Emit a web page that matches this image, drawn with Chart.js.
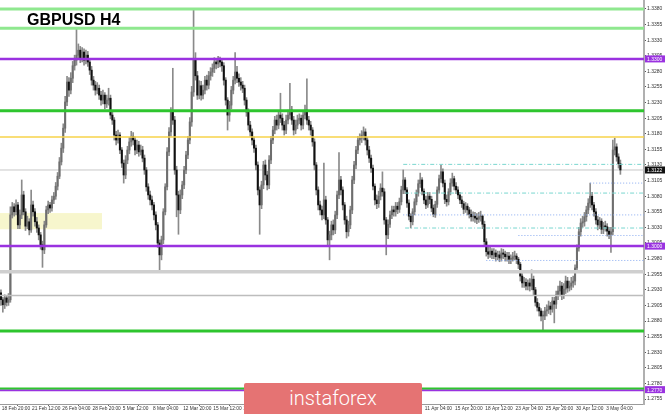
<!DOCTYPE html>
<html><head><meta charset="utf-8">
<script src="https://cdn.jsdelivr.net/npm/chart.js@4.4.1/dist/chart.umd.min.js"></script>
<style>
html,body{margin:0;padding:0;background:#fff;}
#wrap{position:relative;width:665px;height:414px;overflow:hidden;}
#c{position:absolute;left:0;top:0;}
#title{position:absolute;left:27px;top:11px;font:bold 16px/17px "Liberation Sans",Arial,sans-serif;color:#000;white-space:nowrap;}
#wm{position:absolute;left:244px;top:383px;width:178px;height:31px;background:#e57373;color:#fff;font:300 20px/30px Roboto,"Open Sans",sans-serif;text-align:center;border-radius:2px 2px 0 0;}
</style></head><body>
<div id="wrap"><canvas id="c" width="665" height="414"></canvas><div id="title">GBPUSD H4</div><div id="wm">instaforex</div></div>
<script>
// ---- data (GBPUSD H4 candles) ----
const open = [1.2925,1.2914,1.2906,1.2917,1.2910,1.2914,1.3050,1.3063,1.3055,1.3066,
1.3034,1.3050,1.3082,1.3055,1.3032,1.3039,1.3026,1.3066,1.3055,1.3039,
1.3029,1.3018,1.3002,1.2994,1.3034,1.3058,1.3066,1.3061,1.3074,1.3080,
1.3096,1.3112,1.3135,1.3157,1.3189,1.3231,1.3263,1.3250,1.3269,1.3289,
1.3298,1.3306,1.3314,1.3301,1.3311,1.3298,1.3306,1.3295,1.3282,1.3266,
1.3258,1.3250,1.3253,1.3242,1.3234,1.3242,1.3228,1.3234,1.3237,1.3210,
1.3202,1.3178,1.3170,1.3178,1.3154,1.3133,1.3114,1.3138,1.3154,1.3167,
1.3176,1.3170,1.3154,1.3162,1.3151,1.3154,1.3141,1.3122,1.3095,1.3082,
1.3074,1.3066,1.3050,1.3034,1.3005,1.2986,1.3010,1.3055,1.3095,1.3151,
1.3183,1.3215,1.3202,1.3122,1.3082,1.3058,1.3082,1.3098,1.3122,1.3146,
1.3170,1.3199,1.3247,1.3298,1.3273,1.3242,1.3257,1.3242,1.3250,1.3266,
1.3258,1.3273,1.3279,1.3285,1.3295,1.3292,1.3298,1.3295,1.3289,1.3266,
1.3234,1.3210,1.3226,1.3250,1.3266,1.3279,1.3269,1.3263,1.3258,1.3253,
1.3234,1.3215,1.3194,1.3183,1.3170,1.3157,1.3130,1.3090,1.3066,1.3098,
1.3130,1.3114,1.3098,1.3138,1.3170,1.3186,1.3202,1.3194,1.3210,1.3205,
1.3194,1.3186,1.3202,1.3210,1.3218,1.3202,1.3186,1.3194,1.3202,1.3205,
1.3194,1.3210,1.3218,1.3202,1.3194,1.3186,1.3167,1.3130,1.3090,1.3066,
1.3058,1.3050,1.3074,1.3042,1.3010,1.3018,1.3034,1.3026,1.3050,1.3082,
1.3106,1.3090,1.3066,1.3042,1.3023,1.3034,1.3058,1.3106,1.3130,1.3154,
1.3170,1.3173,1.3178,1.3183,1.3170,1.3154,1.3141,1.3125,1.3096,1.3074,
1.3068,1.3080,1.3093,1.3087,1.3042,1.3018,1.3035,1.3050,1.3058,1.3055,
1.3064,1.3059,1.3071,1.3090,1.3106,1.3090,1.3069,1.3048,1.3039,1.3055,
1.3071,1.3085,1.3100,1.3106,1.3088,1.3074,1.3066,1.3080,1.3075,1.3061,
1.3051,1.3067,1.3090,1.3108,1.3119,1.3101,1.3075,1.3071,1.3087,1.3101,
1.3108,1.3096,1.3090,1.3082,1.3074,1.3068,1.3059,1.3064,1.3058,1.3051,
1.3047,1.3048,1.3045,1.3043,1.3047,1.3048,1.3035,1.3007,1.2991,1.2987,
1.2992,1.2986,1.2989,1.2983,1.2986,1.2981,1.2989,1.2987,1.2983,1.2984,
1.2979,1.2979,1.2983,1.2984,1.2979,1.2971,1.2952,1.2941,1.2942,1.2936,
1.2941,1.2936,1.2947,1.2930,1.2910,1.2902,1.2896,1.2888,1.2888,1.2896,
1.2898,1.2904,1.2899,1.2912,1.2907,1.2922,1.2928,1.2936,1.2922,1.2931,
1.2944,1.2933,1.2936,1.2941,1.2944,1.2965,1.2997,1.3023,1.3037,1.3039,
1.3047,1.3058,1.3069,1.3080,1.3066,1.3055,1.3042,1.3034,1.3040,1.3027,
1.3032,1.3031,1.3024,1.3019,1.3023,1.3154,1.3159,1.3143,1.3132];
const high = [1.2930,1.2918,1.2922,1.2920,1.2924,1.3063,1.3070,1.3068,1.3074,1.3070,
1.3058,1.3106,1.3088,1.3060,1.3048,1.3044,1.3090,1.3072,1.3060,1.3046,
1.3034,1.3022,1.3008,1.3040,1.3064,1.3072,1.3070,1.3080,1.3086,1.3102,
1.3118,1.3142,1.3165,1.3196,1.3240,1.3272,1.3270,1.3278,1.3296,1.3306,
1.3348,1.3324,1.3320,1.3318,1.3316,1.3314,1.3312,1.3300,1.3288,1.3272,
1.3264,1.3262,1.3258,1.3248,1.3250,1.3246,1.3242,1.3253,1.3242,1.3216,
1.3206,1.3184,1.3186,1.3182,1.3158,1.3138,1.3145,1.3160,1.3174,1.3184,
1.3182,1.3175,1.3170,1.3168,1.3162,1.3160,1.3146,1.3126,1.3100,1.3088,
1.3080,1.3070,1.3055,1.3038,1.3010,1.3016,1.3060,1.3100,1.3158,1.3190,
1.3222,1.3285,1.3208,1.3128,1.3088,1.3090,1.3104,1.3128,1.3152,1.3176,
1.3206,1.3256,1.3378,1.3310,1.3280,1.3265,1.3264,1.3258,1.3272,1.3274,
1.3280,1.3286,1.3292,1.3302,1.3300,1.3304,1.3303,1.3300,1.3294,1.3270,
1.3238,1.3232,1.3256,1.3272,1.3310,1.3288,1.3276,1.3270,1.3264,1.3258,
1.3238,1.3220,1.3200,1.3188,1.3175,1.3162,1.3135,1.3095,1.3104,1.3136,
1.3138,1.3120,1.3145,1.3176,1.3192,1.3208,1.3210,1.3216,1.3245,1.3212,
1.3200,1.3210,1.3218,1.3261,1.3224,1.3208,1.3202,1.3210,1.3212,1.3210,
1.3216,1.3226,1.3268,1.3208,1.3200,1.3190,1.3172,1.3134,1.3095,1.3072,
1.3064,1.3133,1.3080,1.3046,1.3024,1.3040,1.3042,1.3056,1.3088,1.3150,
1.3112,1.3095,1.3070,1.3048,1.3040,1.3064,1.3112,1.3136,1.3160,1.3176,
1.3180,1.3185,1.3191,1.3188,1.3174,1.3160,1.3146,1.3130,1.3100,1.3082,
1.3088,1.3100,1.3119,1.3092,1.3046,1.3042,1.3056,1.3064,1.3064,1.3070,
1.3070,1.3077,1.3096,1.3122,1.3110,1.3094,1.3074,1.3052,1.3060,1.3076,
1.3090,1.3106,1.3117,1.3110,1.3092,1.3080,1.3086,1.3086,1.3080,1.3066,
1.3072,1.3095,1.3114,1.3130,1.3124,1.3106,1.3082,1.3092,1.3108,1.3117,
1.3112,1.3102,1.3095,1.3086,1.3080,1.3072,1.3070,1.3068,1.3062,1.3058,
1.3055,1.3054,1.3052,1.3054,1.3056,1.3050,1.3040,1.3012,1.2998,1.2998,
1.2996,1.2996,1.2994,1.2992,1.2992,1.2996,1.2995,1.2992,1.2990,1.2990,
1.2986,1.2990,1.2992,1.2988,1.2982,1.2974,1.2956,1.2950,1.2948,1.2946,
1.2948,1.2962,1.2952,1.2934,1.2916,1.2908,1.2900,1.2896,1.2902,1.2906,
1.2912,1.2910,1.2918,1.2918,1.2928,1.2936,1.2944,1.2942,1.2940,1.2952,
1.2950,1.2944,1.2950,1.2952,1.2970,1.3002,1.3030,1.3044,1.3048,1.3054,
1.3064,1.3076,1.3101,1.3086,1.3070,1.3060,1.3048,1.3046,1.3044,1.3038,
1.3040,1.3036,1.3030,1.3030,1.3170,1.3173,1.3164,1.3148,1.3138];
const low = [1.2905,1.2894,1.2900,1.2904,1.2905,1.2910,1.3045,1.3048,1.3050,1.3028,
1.3028,1.3044,1.3050,1.3025,1.3028,1.3018,1.3022,1.3048,1.3032,1.3022,
1.3010,1.2995,1.2966,1.2988,1.3030,1.3052,1.3054,1.3056,1.3068,1.3075,
1.3090,1.3108,1.3130,1.3150,1.3182,1.3225,1.3240,1.3244,1.3262,1.3282,
1.3290,1.3300,1.3294,1.3295,1.3290,1.3292,1.3288,1.3275,1.3258,1.3250,
1.3242,1.3244,1.3235,1.3226,1.3228,1.3220,1.3222,1.3226,1.3204,1.3195,
1.3170,1.3162,1.3165,1.3148,1.3126,1.3101,1.3108,1.3132,1.3148,1.3160,
1.3162,1.3146,1.3148,1.3144,1.3146,1.3135,1.3115,1.3088,1.3075,1.3066,
1.3058,1.3042,1.3026,1.2998,1.2962,1.2978,1.3004,1.3050,1.3090,1.3145,
1.3176,1.3195,1.3115,1.3047,1.3019,1.3052,1.3076,1.3092,1.3116,1.3140,
1.3164,1.3192,1.3240,1.3266,1.3235,1.3236,1.3234,1.3236,1.3244,1.3250,
1.3252,1.3266,1.3272,1.3278,1.3284,1.3286,1.3287,1.3280,1.3258,1.3226,
1.3186,1.3200,1.3220,1.3244,1.3260,1.3262,1.3256,1.3250,1.3246,1.3226,
1.3208,1.3186,1.3176,1.3162,1.3150,1.3122,1.3082,1.3019,1.3060,1.3092,
1.3106,1.3090,1.3092,1.3132,1.3164,1.3180,1.3186,1.3188,1.3198,1.3186,
1.3178,1.3180,1.3196,1.3204,1.3195,1.3178,1.3180,1.3188,1.3196,1.3186,
1.3188,1.3204,1.3195,1.3186,1.3178,1.3160,1.3122,1.3082,1.3058,1.3050,
1.3042,1.3044,1.3035,1.3002,1.2978,1.3010,1.3018,1.3020,1.3044,1.3076,
1.3082,1.3058,1.3035,1.3013,1.3016,1.3028,1.3052,1.3100,1.3124,1.3148,
1.3162,1.3166,1.3170,1.3162,1.3146,1.3134,1.3118,1.3090,1.3066,1.3060,
1.3062,1.3074,1.3080,1.3035,1.2986,1.3012,1.3030,1.3044,1.3048,1.3048,
1.3052,1.3054,1.3066,1.3084,1.3084,1.3062,1.3042,1.3029,1.3034,1.3050,
1.3066,1.3080,1.3094,1.3082,1.3068,1.3060,1.3062,1.3068,1.3055,1.3047,
1.3046,1.3062,1.3085,1.3102,1.3095,1.3068,1.3064,1.3066,1.3082,1.3096,
1.3090,1.3084,1.3076,1.3068,1.3062,1.3052,1.3054,1.3050,1.3045,1.3040,
1.3040,1.3038,1.3036,1.3038,1.3040,1.3028,1.3000,1.2984,1.2980,1.2982,
1.2980,1.2980,1.2976,1.2978,1.2975,1.2976,1.2980,1.2976,1.2976,1.2972,
1.2972,1.2976,1.2978,1.2972,1.2964,1.2944,1.2934,1.2934,1.2930,1.2930,
1.2928,1.2930,1.2922,1.2904,1.2896,1.2888,1.2880,1.2866,1.2882,1.2888,
1.2892,1.2890,1.2894,1.2877,1.2900,1.2914,1.2920,1.2914,1.2916,1.2924,
1.2926,1.2928,1.2930,1.2934,1.2938,1.2960,1.2992,1.3016,1.3030,1.3032,
1.3040,1.3052,1.3062,1.3058,1.3048,1.3035,1.3026,1.3028,1.3020,1.3020,
1.3024,1.3016,1.3012,1.2990,1.3018,1.3146,1.3136,1.3125,1.3115];
const close = [1.2914,1.2906,1.2917,1.2910,1.2914,1.3050,1.3063,1.3055,1.3066,1.3034,
1.3050,1.3082,1.3055,1.3032,1.3039,1.3026,1.3066,1.3055,1.3039,1.3029,
1.3018,1.3002,1.2994,1.3034,1.3058,1.3066,1.3061,1.3074,1.3080,1.3096,
1.3112,1.3135,1.3157,1.3189,1.3231,1.3263,1.3250,1.3269,1.3289,1.3298,
1.3306,1.3314,1.3301,1.3311,1.3298,1.3306,1.3295,1.3282,1.3266,1.3258,
1.3250,1.3253,1.3242,1.3234,1.3242,1.3228,1.3234,1.3237,1.3210,1.3202,
1.3178,1.3170,1.3178,1.3154,1.3133,1.3114,1.3138,1.3154,1.3167,1.3176,
1.3170,1.3154,1.3162,1.3151,1.3154,1.3141,1.3122,1.3095,1.3082,1.3074,
1.3066,1.3050,1.3034,1.3005,1.2986,1.3010,1.3055,1.3095,1.3151,1.3183,
1.3215,1.3202,1.3122,1.3082,1.3058,1.3082,1.3098,1.3122,1.3146,1.3170,
1.3199,1.3247,1.3298,1.3273,1.3242,1.3257,1.3242,1.3250,1.3266,1.3258,
1.3273,1.3279,1.3285,1.3295,1.3292,1.3298,1.3295,1.3289,1.3266,1.3234,
1.3210,1.3226,1.3250,1.3266,1.3279,1.3269,1.3263,1.3258,1.3253,1.3234,
1.3215,1.3194,1.3183,1.3170,1.3157,1.3130,1.3090,1.3066,1.3098,1.3130,
1.3114,1.3098,1.3138,1.3170,1.3186,1.3202,1.3194,1.3210,1.3205,1.3194,
1.3186,1.3202,1.3210,1.3218,1.3202,1.3186,1.3194,1.3202,1.3205,1.3194,
1.3210,1.3218,1.3202,1.3194,1.3186,1.3167,1.3130,1.3090,1.3066,1.3058,
1.3050,1.3074,1.3042,1.3010,1.3018,1.3034,1.3026,1.3050,1.3082,1.3106,
1.3090,1.3066,1.3042,1.3023,1.3034,1.3058,1.3106,1.3130,1.3154,1.3170,
1.3173,1.3178,1.3183,1.3170,1.3154,1.3141,1.3125,1.3096,1.3074,1.3068,
1.3080,1.3093,1.3087,1.3042,1.3018,1.3035,1.3050,1.3058,1.3055,1.3064,
1.3059,1.3071,1.3090,1.3106,1.3090,1.3069,1.3048,1.3039,1.3055,1.3071,
1.3085,1.3100,1.3106,1.3088,1.3074,1.3066,1.3080,1.3075,1.3061,1.3051,
1.3067,1.3090,1.3108,1.3119,1.3101,1.3075,1.3071,1.3087,1.3101,1.3108,
1.3096,1.3090,1.3082,1.3074,1.3068,1.3059,1.3064,1.3058,1.3051,1.3047,
1.3048,1.3045,1.3043,1.3047,1.3048,1.3035,1.3007,1.2991,1.2987,1.2992,
1.2986,1.2989,1.2983,1.2986,1.2981,1.2989,1.2987,1.2983,1.2984,1.2979,
1.2979,1.2983,1.2984,1.2979,1.2971,1.2952,1.2941,1.2942,1.2936,1.2941,
1.2936,1.2947,1.2930,1.2910,1.2902,1.2896,1.2888,1.2888,1.2896,1.2898,
1.2904,1.2899,1.2912,1.2907,1.2922,1.2928,1.2936,1.2922,1.2931,1.2944,
1.2933,1.2936,1.2941,1.2944,1.2965,1.2997,1.3023,1.3037,1.3039,1.3047,
1.3058,1.3069,1.3080,1.3066,1.3055,1.3042,1.3034,1.3040,1.3027,1.3032,
1.3031,1.3024,1.3019,1.3023,1.3154,1.3159,1.3143,1.3132,1.3122];

// time-axis tick labels (every 16th H4 bar, starting at bar 1)
const timeLabels = ["18 Feb 20:00","21 Feb 12:00","26 Feb 04:00","28 Feb 20:00","5 Mar 12:00","8 Mar 04:00","12 Mar 20:00","15 Mar 12:00","20 Mar 04:00","22 Mar 20:00","27 Mar 12:00","1 Apr 04:00","3 Apr 20:00","8 Apr 12:00","11 Apr 04:00","15 Apr 20:00","18 Apr 12:00","23 Apr 04:00","25 Apr 20:00","30 Apr 12:00","3 May 04:00"];
const timeTickBars = [1,17,33,49,65,81,97,113,129,145,161,177,193,209,225,241,257,273,289,305,321];
// price-axis tick labels
const priceTicks = [1.3380,1.3355,1.3330,1.3305,1.3280,1.3255,1.3230,1.3205,1.3180,1.3155,1.3130,1.3105,1.3080,1.3055,1.3030,1.3005,1.2980,1.2955,1.2930,1.2905,1.2880,1.2855,1.2830,1.2805,1.2780,1.2755];
// horizontal levels drawn on the chart
const levelPrices = [1.3380,1.3349,1.3300,1.3217,1.3175,1.3000,1.2959,1.2921,1.2864,1.2772,1.2769];
const bidPrice = 1.3122;
// partial (dotted) levels on the right: price and first bar
const dotPrices = [1.3131,1.3085,1.3029,1.3101,1.3050,1.3017,1.2977];
const dotStartBar = [213,214,214,312,213,274,257];
// highlighted zone
const zoneTop = 1.3053, zoneBottom = 1.3027, zoneEndBar = 53.5;
// price tags on the axis
const tagPrices = [1.3300,1.3000,1.2770];

// ---- styles ----
const levelStyle = [
  ['#8fe88f',3],['#8fe88f',3],['#9a32e0',2.5],['#2ec52e',3],['#f7d34a',1.5],
  ['#9a32e0',2.5],['#cfcfcf',3.5],['#bdbdbd',1.5],['#2ec52e',3],['#2ec52e',2],['#9a32e0',2]
];
const dotStyle = ['cyan','cyan','cyan','blue','blue','blue','blue'];

const N = close.length;
const XMIN = -0.5, XMAX = 340.5;
const wick = [], body = [], bodyCol = [];
for (let i = 0; i < N; i++) {
  wick.push({x: i, y: [low[i], high[i]]});
  body.push({x: i, y: [open[i], close[i]]});
  bodyCol.push(close[i] >= open[i] ? '#6e6e6e' : '#111111');
}
const datasets = [];
levelPrices.forEach((p, k) => {
  datasets.push({type:'line', data:[{x:XMIN,y:p},{x:XMAX,y:p}], borderColor: levelStyle[k][0], borderWidth: levelStyle[k][1], pointRadius:0, fill:false, order:0});
});
dotPrices.forEach((p, k) => {
  const c = dotStyle[k] === 'cyan';
  datasets.push({type:'line', data:[{x:dotStartBar[k],y:p},{x:XMAX,y:p}], borderColor: c ? '#79d6cf' : '#88aaf0', borderWidth:1, borderDash: c ? [4,2,1,2] : [1,2], pointRadius:0, fill:false, order:1});
});
datasets.push({type:'line', data:[{x:XMIN,y:bidPrice},{x:XMAX,y:bidPrice}], borderColor:'#c8c8c8', borderWidth:1, pointRadius:0, fill:false, order:5});
datasets.push({type:'bar', data: wick, backgroundColor:'#8a8a8a', barThickness:1, grouped:false, order:3});
datasets.push({type:'bar', data: body, backgroundColor: bodyCol, barThickness:1.4, minBarLength:1, grouped:false, order:2});

const decor = {
  id:'decor',
  beforeDatasetsDraw(chart){
    const {ctx, scales:{x,y}} = chart;
    ctx.save();
    ctx.fillStyle = 'rgba(246,244,196,0.85)';
    const x0 = x.getPixelForValue(XMIN), x1 = x.getPixelForValue(zoneEndBar);
    const y0 = y.getPixelForValue(zoneTop), y1 = y.getPixelForValue(zoneBottom);
    ctx.fillRect(x0, y0, x1-x0, y1-y0);
    ctx.restore();
  },
  afterDraw(chart){
    const {ctx, scales:{y}, chartArea} = chart;
    ctx.save();
    ctx.font = '5px "Liberation Sans", Arial, sans-serif';
    ctx.textBaseline = 'middle';
    const tag = (p, bg) => {
      const py = y.getPixelForValue(p);
      ctx.fillStyle = bg;
      ctx.fillRect(chartArea.right+1, py-3.5, 21, 7);
      ctx.fillStyle = '#fff';
      ctx.fillText(p.toFixed(4), chartArea.right+3, py+0.5);
    };
    tagPrices.forEach(p => tag(p, '#9a32e0'));
    tag(bidPrice, '#111');
    ctx.restore();
  }
};

new Chart(document.getElementById('c'), {
  type:'bar',
  data:{datasets},
  plugins:[decor],
  options:{
    responsive:false, animation:false, devicePixelRatio:1,
    layout:{padding:0},
    plugins:{legend:{display:false}, tooltip:{enabled:false}},
    scales:{
      x:{type:'linear', min:XMIN, max:XMAX, offset:false,
        grid:{drawOnChartArea:false, drawTicks:true, tickLength:2, color:'#666'},
        border:{display:true, color:'#9a9a9a', width:1},
        ticks:{autoSkip:false, maxRotation:0, minRotation:0, align:'start', padding:0, labelOffset:-1,
          font:{size:4.8, family:'"Liberation Sans", Arial, sans-serif'}, color:'#333',
          callback:(v,i)=>timeLabels[i]},
        afterBuildTicks:s=>{s.ticks = timeTickBars.map(v=>({value:v}));},
        afterFit:s=>{s.height=10; s.paddingLeft=0; s.paddingRight=0;}
      },
      y:{type:'linear', position:'right', min:1.27470, max:1.33944,
        grid:{drawOnChartArea:false, drawTicks:true, tickLength:2, color:'#555'},
        border:{display:true, color:'#b0b0b0', width:2},
        ticks:{padding:1, font:{size:5, family:'"Liberation Sans", Arial, sans-serif'}, color:'#333',
          callback:v=>Number(v).toFixed(4)},
        afterBuildTicks:s=>{s.ticks = priceTicks.map(v=>({value:v}));},
        afterFit:s=>{s.width=21; s.paddingTop=0; s.paddingBottom=0;}
      }
    }
  }
});
</script>
</body></html>
